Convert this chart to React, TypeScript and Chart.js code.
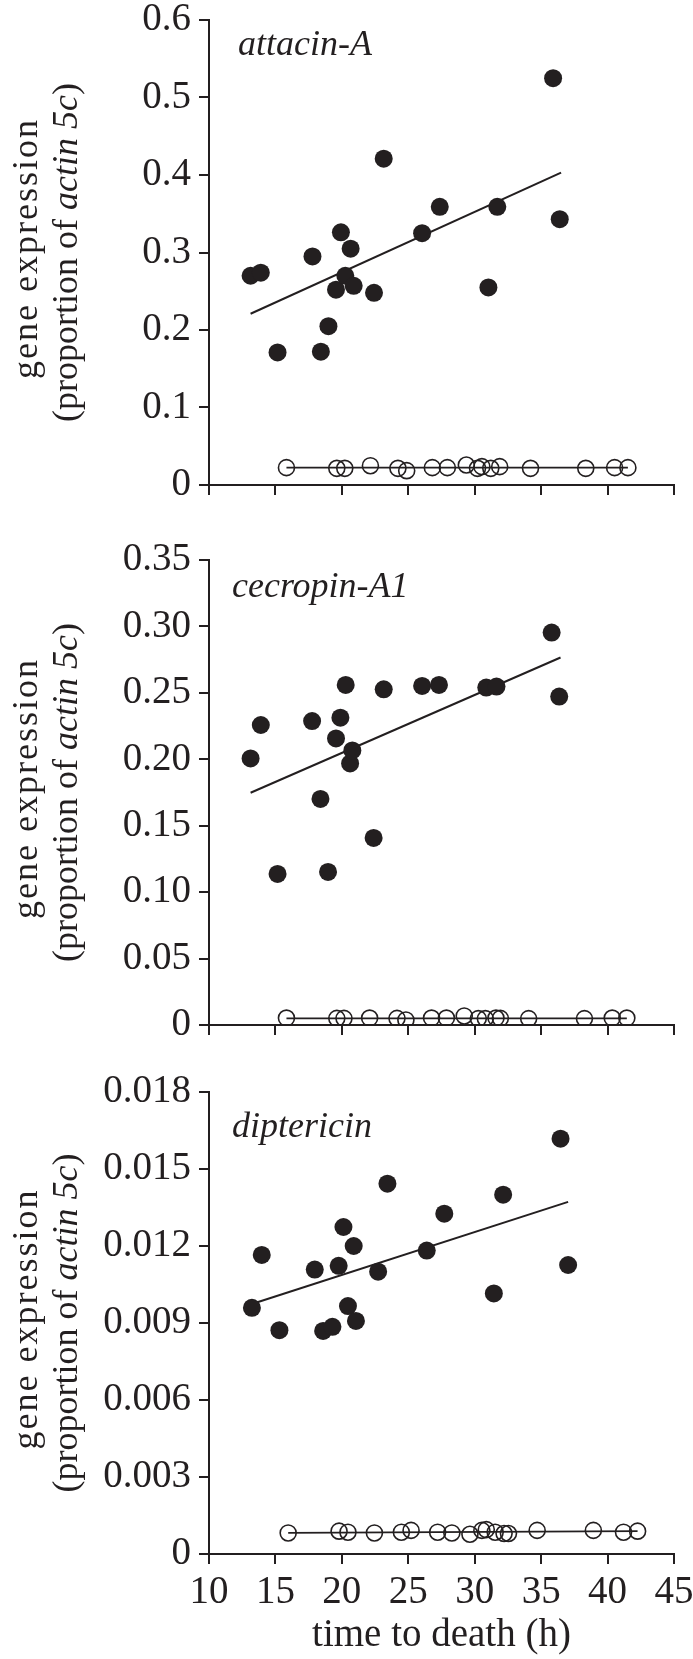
import React, { useEffect, useRef } from "react";
import { Chart, registerables } from "chart.js";

Chart.register(...registerables);

const INK = "#231f20";
const FAMILY = '"Liberation Serif", "Times New Roman", serif';

// shared x axis
const xTickValues = [10, 15, 20, 25, 30, 35, 40, 45];
const xTitle = "time to death (h)";

// ---------- attacin-A ----------
const attacinName = "attacin-A";
const attacinFilledX = [13.13, 13.9, 15.16, 17.79, 18.42, 18.99, 19.56, 19.93, 20.26, 20.66, 20.89, 22.42, 23.15, 26.04, 27.37, 31.03, 31.7, 35.9, 36.4];
const attacinFilledY = [0.27, 0.274, 0.171, 0.295, 0.172, 0.205, 0.252, 0.326, 0.27, 0.305, 0.257, 0.248, 0.421, 0.325, 0.359, 0.255, 0.359, 0.525, 0.343];
const attacinOpenX = [15.83, 19.62, 20.22, 22.15, 24.22, 24.88, 26.81, 27.94, 29.37, 30.21, 30.54, 31.21, 31.88, 34.2, 38.36, 40.53, 41.53];
const attacinOpenY = [0.0224, 0.0215, 0.0215, 0.0249, 0.0215, 0.0185, 0.0224, 0.0224, 0.0258, 0.0215, 0.0237, 0.0215, 0.0237, 0.0215, 0.0215, 0.0224, 0.0224];
const attacinFitX = [13.13, 36.5];
const attacinFitY = [0.221, 0.403];
const attacinOpenFitX = [15.83, 41.53];
const attacinOpenFitY = [0.0224, 0.0224];
const attacinTickValues = [0, 0.1, 0.2, 0.3, 0.4, 0.5, 0.6];
const attacinTickLabels = ["0", "0.1", "0.2", "0.3", "0.4", "0.5", "0.6"];

// ---------- cecropin-A1 ----------
const cecropinName = "cecropin-A1";
const cecropinFilledX = [13.13, 13.9, 15.16, 17.76, 18.39, 18.96, 19.56, 19.89, 20.29, 20.62, 20.79, 22.39, 23.15, 26.04, 27.31, 30.87, 31.64, 35.79, 36.36];
const cecropinFilledY = [0.2006, 0.2258, 0.1137, 0.2288, 0.1702, 0.1152, 0.2157, 0.2313, 0.256, 0.1969, 0.2067, 0.1408, 0.2527, 0.2552, 0.256, 0.254, 0.2547, 0.2954, 0.2472];
const cecropinOpenX = [15.83, 19.62, 20.16, 22.09, 24.15, 24.82, 26.75, 27.87, 29.21, 30.27, 30.8, 31.6, 31.93, 34.06, 38.26, 40.35, 41.45];
const cecropinOpenY = [0.0052, 0.005, 0.005, 0.0052, 0.005, 0.0038, 0.0052, 0.0052, 0.0068, 0.0048, 0.0048, 0.0052, 0.005, 0.0048, 0.0048, 0.0052, 0.0052];
const cecropinFitX = [13.13, 36.46];
const cecropinFitY = [0.1748, 0.2766];
const cecropinOpenFitX = [15.83, 41.45];
const cecropinOpenFitY = [0.005, 0.005];
const cecropinTickValues = [0, 0.05, 0.1, 0.15, 0.2, 0.25, 0.3, 0.35];
const cecropinTickLabels = ["0", "0.05", "0.10", "0.15", "0.20", "0.25", "0.30", "0.35"];

// ---------- diptericin ----------
const diptericinName = "diptericin";
const diptericinFilledX = [13.23, 13.97, 15.3, 17.96, 18.59, 19.29, 19.76, 20.12, 20.46, 20.89, 21.06, 22.73, 23.43, 26.39, 27.71, 31.44, 32.14, 36.46, 37.03];
const diptericinFilledY = [0.00959, 0.01165, 0.00872, 0.01108, 0.00869, 0.00885, 0.01123, 0.01274, 0.00966, 0.012, 0.00908, 0.011, 0.01443, 0.01182, 0.01326, 0.01015, 0.014, 0.01618, 0.01126];
const diptericinOpenX = [15.96, 19.79, 20.46, 22.45, 24.48, 25.21, 27.21, 28.28, 29.64, 30.54, 30.87, 31.54, 32.21, 32.54, 34.7, 38.93, 41.2, 42.26];
const diptericinOpenY = [0.00082, 0.00089, 0.00085, 0.00082, 0.00085, 0.00092, 0.00085, 0.00082, 0.00077, 0.00092, 0.00095, 0.00085, 0.0008, 0.0008, 0.00092, 0.00092, 0.00085, 0.00089];
const diptericinFitX = [13.23, 37.03];
const diptericinFitY = [0.00974, 0.01372];
const diptericinOpenFitX = [15.96, 42.26];
const diptericinOpenFitY = [0.00082, 0.00089];
const diptericinTickValues = [0, 0.003, 0.006, 0.009, 0.012, 0.015, 0.018];
const diptericinTickLabels = ["0", "0.003", "0.006", "0.009", "0.012", "0.015", "0.018"];

const yTitleLine1 = "gene expression";
const yTitleLine2Pre = "(proportion of ";
const yTitleLine2Ital = "actin 5c";
const yTitleLine2Post = ")";

const pts = (xs: number[], ys: number[]) => xs.map((x, i) => ({ x, y: ys[i] }));

type PanelDef = {
  name: string;
  fx: number[]; fy: number[];
  ox: number[]; oy: number[];
  lx: number[]; ly: number[];
  olx: number[]; oly: number[];
  ticks: number[]; labels: string[];
  top: number; height: number;
  padTop: number; padBottom: number; xAxisHeight: number;
  showXLabels: boolean;
  nameX: number; nameY: number;
};

const panels: PanelDef[] = [
  {
    name: attacinName, fx: attacinFilledX, fy: attacinFilledY, ox: attacinOpenX, oy: attacinOpenY,
    lx: attacinFitX, ly: attacinFitY, olx: attacinOpenFitX, oly: attacinOpenFitY,
    ticks: attacinTickValues, labels: attacinTickLabels,
    top: 0, height: 520, padTop: 20, padBottom: 25, xAxisHeight: 10, showXLabels: false,
    nameX: 238, nameY: 55,
  },
  {
    name: cecropinName, fx: cecropinFilledX, fy: cecropinFilledY, ox: cecropinOpenX, oy: cecropinOpenY,
    lx: cecropinFitX, ly: cecropinFitY, olx: cecropinOpenFitX, oly: cecropinOpenFitY,
    ticks: cecropinTickValues, labels: cecropinTickLabels,
    top: 520, height: 520, padTop: 40, padBottom: 5, xAxisHeight: 10, showXLabels: false,
    nameX: 232, nameY: 77,
  },
  {
    name: diptericinName, fx: diptericinFilledX, fy: diptericinFilledY, ox: diptericinOpenX, oy: diptericinOpenY,
    lx: diptericinFitX, ly: diptericinFitY, olx: diptericinOpenFitX, oly: diptericinOpenFitY,
    ticks: diptericinTickValues, labels: diptericinTickLabels,
    top: 1040, height: 619, padTop: 52, padBottom: 0, xAxisHeight: 105, showXLabels: true,
    nameX: 232, nameY: 97,
  },
];

const TICK_SIZE = 39;

function makeChart(canvas: HTMLCanvasElement, p: PanelDef) {
  const overlay = {
    id: "overlay-" + p.name,
    afterDraw(chart: any) {
      const ctx = chart.ctx as any;
      const area = chart.chartArea;
      ctx.save();
      ctx.fillStyle = INK;
      ctx.textBaseline = "alphabetic";
      // panel name
      ctx.font = `italic 36px ${FAMILY}`;
      ctx.textAlign = "left";
      ctx.fillText(p.name, p.nameX, p.nameY);
      // y title
      const cy = (area.top + area.bottom) / 2;
      ctx.save();
      ctx.translate(37, cy - 4);
      ctx.rotate(-Math.PI / 2);
      ctx.font = `36px ${FAMILY}`;
      ctx.textAlign = "center";
      if ("letterSpacing" in ctx) ctx.letterSpacing = "2px";
      ctx.fillText(yTitleLine1, 0, 0);
      if ("letterSpacing" in ctx) ctx.letterSpacing = "0px";
      ctx.restore();
      ctx.save();
      ctx.translate(77, cy);
      ctx.rotate(-Math.PI / 2);
      ctx.textAlign = "left";
      const normal = `36px ${FAMILY}`;
      const ital = `italic 36px ${FAMILY}`;
      ctx.font = normal;
      const w1 = ctx.measureText(yTitleLine2Pre).width;
      const w3 = ctx.measureText(yTitleLine2Post).width;
      ctx.font = ital;
      const w2 = ctx.measureText(yTitleLine2Ital).width;
      let x = -(w1 + w2 + w3) / 2;
      ctx.font = normal;
      ctx.fillText(yTitleLine2Pre, x, 0);
      x += w1;
      ctx.font = ital;
      ctx.fillText(yTitleLine2Ital, x, 0);
      x += w2;
      ctx.font = normal;
      ctx.fillText(yTitleLine2Post, x, 0);
      ctx.restore();
      ctx.restore();
    },
  };

  return new Chart(canvas, {
    type: "scatter",
    data: {
      datasets: [
        {
          label: "filled",
          data: pts(p.fx, p.fy),
          pointRadius: 9,
          pointHoverRadius: 9,
          backgroundColor: INK,
          borderWidth: 0,
          showLine: false,
        },
        {
          label: "open",
          data: pts(p.ox, p.oy),
          pointRadius: 8,
          pointHoverRadius: 8,
          backgroundColor: "rgba(255,255,255,0)",
          borderColor: INK,
          borderWidth: 1.6,
          showLine: false,
        },
        {
          label: "fit",
          data: pts(p.lx, p.ly),
          showLine: true,
          pointRadius: 0,
          borderColor: INK,
          borderWidth: 2,
        },
        {
          label: "open fit",
          data: pts(p.olx, p.oly),
          showLine: true,
          pointRadius: 0,
          borderColor: INK,
          borderWidth: 1.8,
        },
      ],
    },
    options: {
      animation: false,
      responsive: false,
      events: [],
      layout: { padding: { left: 0, right: 19, top: p.padTop, bottom: p.padBottom } },
      plugins: { legend: { display: false }, tooltip: { enabled: false }, title: { display: false } },
      scales: {
        x: {
          type: "linear",
          min: 10,
          max: 45,
          afterBuildTicks: (axis: any) => {
            axis.ticks = xTickValues.map((v) => ({ value: v }));
          },
          afterFit: (axis: any) => {
            axis.height = p.xAxisHeight;
            axis.paddingLeft = 0;
            axis.paddingRight = 0;
          },
          grid: { display: true, drawOnChartArea: false, drawTicks: true, tickLength: 10, color: INK, lineWidth: 2 },
          border: { display: true, color: INK, width: 2 },
          ticks: {
            display: p.showXLabels,
            autoSkip: false,
            maxRotation: 0,
            padding: 5,
            color: INK,
            font: { family: FAMILY, size: TICK_SIZE },
            callback: (v: any) => String(v),
          },
          title: {
            display: p.showXLabels,
            text: xTitle,
            color: INK,
            font: { family: FAMILY, size: TICK_SIZE },
            padding: { top: 0, bottom: 0 },
          },
        },
        y: {
          type: "linear",
          min: 0,
          max: p.ticks[p.ticks.length - 1],
          afterBuildTicks: (axis: any) => {
            axis.ticks = p.ticks.map((v) => ({ value: v }));
          },
          afterFit: (axis: any) => {
            axis.width = 209;
            axis.paddingTop = 0;
            axis.paddingBottom = 0;
          },
          grid: { display: true, drawOnChartArea: false, drawTicks: true, tickLength: 10, color: INK, lineWidth: 2 },
          border: { display: true, color: INK, width: 2 },
          ticks: {
            autoSkip: false,
            padding: 8,
            color: INK,
            font: { family: FAMILY, size: TICK_SIZE },
            callback: (_v: any, i: number) => p.labels[i],
          },
        },
      },
    },
    plugins: [overlay],
  } as any);
}

export default function App() {
  const r0 = useRef<HTMLCanvasElement>(null);
  const r1 = useRef<HTMLCanvasElement>(null);
  const r2 = useRef<HTMLCanvasElement>(null);

  useEffect(() => {
    const refs = [r0, r1, r2];
    const charts = panels.map((p, i) => makeChart(refs[i].current as HTMLCanvasElement, p));
    return () => charts.forEach((c) => c.destroy());
  }, []);

  const refs = [r0, r1, r2];
  return (
    <div style={{ position: "absolute", left: 0, top: 0, width: 693, height: 1659, background: "#fff" }}>
      {panels.map((p, i) => (
        <canvas
          key={p.name}
          ref={refs[i]}
          width={693}
          height={p.height}
          style={{ position: "absolute", left: 0, top: p.top, width: 693, height: p.height, display: "block" }}
        />
      ))}
    </div>
  );
}
